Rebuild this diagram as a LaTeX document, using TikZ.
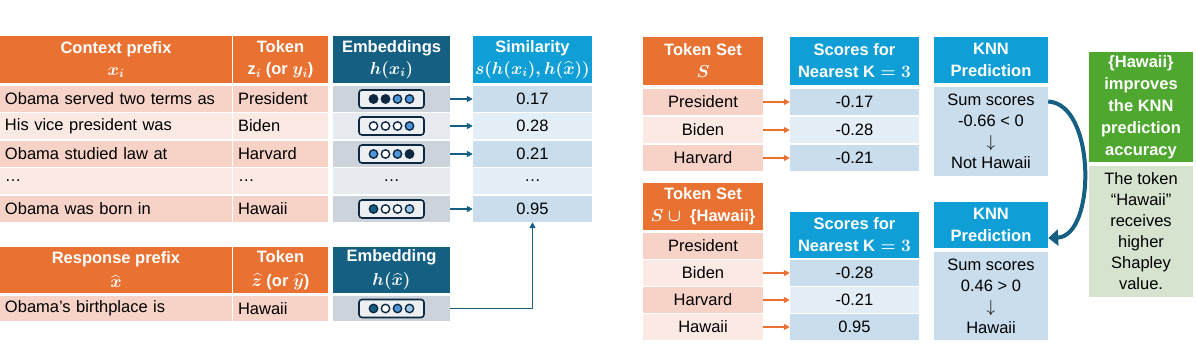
\documentclass[tikz,border=0pt]{standalone}
\usepackage{amsmath,amssymb}
\usepackage{fontspec}
\setmainfont{Liberation Sans}
\usepackage{tikz}
\usetikzlibrary{arrows.meta,positioning}

\definecolor{orangeHd}{HTML}{E97132}
\definecolor{orangeA}{HTML}{F7D3C7}
\definecolor{orangeB}{HTML}{FBE9E4}
\definecolor{tealHd}{HTML}{156082}
\definecolor{grayA}{HTML}{CDD3DA}
\definecolor{grayB}{HTML}{E7EAEE}
\definecolor{blueHd}{HTML}{0F9ED5}
\definecolor{blueA}{HTML}{C9DDED}
\definecolor{blueB}{HTML}{E4EEF6}
\definecolor{greenHd}{HTML}{4EA72E}
\definecolor{greenA}{HTML}{D5E3CF}
\definecolor{dotDark}{HTML}{0E2841}
\definecolor{dotMid}{HTML}{4E95D9}
\definecolor{dotLight}{HTML}{9CC7EA}
\definecolor{iconFill}{HTML}{EDF0F3}

% embedding icon: four dots in a rounded bar
\newcommand{\embicon}[5]{%
  \begin{scope}[shift={(#1)}]
    \draw[rounded corners=3pt, line width=1.6pt, draw=dotDark, fill=iconFill] (-32.5,-9) rectangle (32.5,9);
    \draw[line width=1.4pt, draw=dotDark, fill=#2] (-18,0) circle (4.2pt);
    \draw[line width=1.4pt, draw=dotDark, fill=#3] (-6,0) circle (4.2pt);
    \draw[line width=1.4pt, draw=dotDark, fill=#4] (6,0) circle (4.2pt);
    \draw[line width=1.4pt, draw=dotDark, fill=#5] (18,0) circle (4.2pt);
  \end{scope}}

\begin{document}
\begin{tikzpicture}[
  x=1pt, y=-1pt,
  font=\fontsize{16.5}{21}\selectfont,
  head/.style={inner sep=0pt, text=white, font=\fontsize{16.5}{22}\selectfont\bfseries\boldmath, align=center},
  ohd/.style={head, fill=orangeHd},
  thd/.style={head, fill=tealHd},
  bhd/.style={head, fill=blueHd},
  ghd/.style={head, fill=greenHd},
  cell/.style={inner sep=0pt, minimum height=26pt, align=center},
  txt/.style={cell, inner xsep=5pt, text width=#1, align=left},
  emb arrow/.style={draw=tealHd, line width=1.5pt, -{Triangle[length=6pt,width=6pt]}},
  tok arrow/.style={draw=orangeHd, line width=1.5pt, -{Triangle[length=6pt,width=6pt]}}
]
  \useasboundingbox (0,0) rectangle (1196,358);

  % Context table
  \node[ohd, minimum width=232pt, minimum height=47pt] (hctx) at (116,59.5) {Context prefix\\ $x_i$};
  \node[ohd, minimum width=95pt, minimum height=47pt] (htok) at (280.5,59.5) {Token\\ $\mathrm{z}_i$ (or $y_i$)};
  \node[thd, minimum width=117pt, minimum height=47pt] (hemb) at (391.5,59.5) {Embeddings\\ $h(x_i)$};
  \node[bhd, minimum width=119pt, minimum height=47pt] (hsim) at (532.5,59.5) {Similarity\\ $s(h(x_i),h(\widehat{x}))$};

  \node[txt=222pt, fill=orangeA] (c1) at (116,99) {Obama served two terms as};
  \node[txt=222pt, fill=orangeB] (c2) at (116,126) {His vice president was};
  \node[txt=222pt, fill=orangeA] (c3) at (116,154) {Obama studied law at};
  \node[txt=222pt, fill=orangeB] (c4) at (116,181) {\dots};
  \node[txt=222pt, fill=orangeA] (c5) at (116,209) {Obama was born in};

  \node[txt=85pt, fill=orangeA] (t1) at (280.5,99) {President};
  \node[txt=85pt, fill=orangeB] (t2) at (280.5,126) {Biden};
  \node[txt=85pt, fill=orangeA] (t3) at (280.5,154) {Harvard};
  \node[txt=85pt, fill=orangeB] (t4) at (280.5,181) {\dots};
  \node[txt=85pt, fill=orangeA] (t5) at (280.5,209) {Hawaii};

  \node[cell, minimum width=117pt, fill=grayA] (e1) at (391.5,99) {};
  \node[cell, minimum width=117pt, fill=grayB] (e2) at (391.5,126) {};
  \node[cell, minimum width=117pt, fill=grayA] (e3) at (391.5,154) {};
  \node[cell, minimum width=117pt, fill=grayB] (e4) at (391.5,181) {\dots};
  \node[cell, minimum width=117pt, fill=grayA] (e5) at (391.5,209) {};
  \embicon{e1}{dotDark}{dotDark}{dotMid}{dotMid}
  \embicon{e2}{white}{white}{white}{dotMid}
  \embicon{e3}{dotMid}{white}{dotMid}{dotDark}
  \embicon{e5}{tealHd}{white}{white}{dotLight}

  \node[cell, minimum width=119pt, fill=blueA] (s1) at (532.5,99) {0.17};
  \node[cell, minimum width=119pt, fill=blueB] (s2) at (532.5,126) {0.28};
  \node[cell, minimum width=119pt, fill=blueA] (s3) at (532.5,154) {0.21};
  \node[cell, minimum width=119pt, fill=blueB] (s4) at (532.5,181) {\dots};
  \node[cell, minimum width=119pt, fill=blueA] (s5) at (532.5,209) {0.95};

  \draw[emb arrow] (e1) -- (s1);
  \draw[emb arrow] (e2) -- (s2);
  \draw[emb arrow] (e3) -- (s3);
  \draw[emb arrow] (e5) -- (s5);

  % Response table
  \node[ohd, minimum width=232pt, minimum height=46pt] (hrsp) at (116,270) {Response prefix\\[2pt] $\widehat{x}$};
  \node[ohd, minimum width=95pt, minimum height=46pt] (hrtok) at (280.5,270) {Token\\[2pt] $\widehat{z}$ (or $\widehat{y}$)};
  \node[thd, minimum width=117pt, minimum height=46pt] (hremb) at (391.5,270) {Embedding\\[2pt] $h(\widehat{x})$};

  \node[txt=222pt, minimum height=25pt, fill=orangeA] (rq) at (116,308.5) {Obama’s birthplace is};
  \node[txt=85pt, minimum height=25pt, fill=orangeA] (tq) at (280.5,308.5) {Hawaii};
  \node[cell, minimum width=117pt, minimum height=25pt, fill=grayA] (eq) at (391.5,308.5) {};
  \embicon{eq}{tealHd}{white}{dotMid}{dotLight}

  \draw[emb arrow] (eq.east) -| (s5.south);

  % Token set S
  \node[ohd, minimum width=120pt, minimum height=48pt] (hset) at (703,61) {Token Set\\ $S$};
  \node[bhd, minimum width=129pt, minimum height=48pt] (hsc) at (854.5,61) {Scores for\\ Nearest $\mathrm{K}=3$};
  \node[cell, minimum width=120pt, fill=orangeA] (k1) at (703,102) {President};
  \node[cell, minimum width=120pt, fill=orangeB] (k2) at (703,130) {Biden};
  \node[cell, minimum width=120pt, fill=orangeA] (k3) at (703,158) {Harvard};
  \node[cell, minimum width=129pt, fill=blueA] (v1) at (854.5,102) {-0.17};
  \node[cell, minimum width=129pt, fill=blueB] (v2) at (854.5,130) {-0.28};
  \node[cell, minimum width=129pt, fill=blueA] (v3) at (854.5,158) {-0.21};
  \draw[tok arrow] (k1) -- (v1);
  \draw[tok arrow] (k2) -- (v2);
  \draw[tok arrow] (k3) -- (v3);

  \node[bhd, minimum width=114pt, minimum height=46pt] (hknn) at (991,60) {KNN\\ Prediction};
  \node[cell, minimum width=114pt, minimum height=89pt, fill=blueA] (knn) at (991,131.5) {Sum scores\\ -0.66 < 0\\ $\downarrow$\\ Not Hawaii};

  % Token set S with Hawaii
  \node[ohd, minimum width=120pt, minimum height=47pt] (hsetb) at (703,206.5) {Token Set\\ $S\cup{}$ \{Hawaii\}};
  \node[cell, minimum width=120pt, fill=orangeA] (kb1) at (703,245.5) {President};
  \node[cell, minimum width=120pt, fill=orangeB] (kb2) at (703,273) {Biden};
  \node[cell, minimum width=120pt, fill=orangeA] (kb3) at (703,300) {Harvard};
  \node[cell, minimum width=120pt, fill=orangeB] (kb4) at (703,327) {Hawaii};
  \node[bhd, minimum width=129pt, minimum height=46pt] (hscb) at (854.5,235) {Scores for\\ Nearest $\mathrm{K}=3$};
  \node[cell, minimum width=129pt, fill=blueA] (vb2) at (854.5,273) {-0.28};
  \node[cell, minimum width=129pt, fill=blueB] (vb3) at (854.5,300) {-0.21};
  \node[cell, minimum width=129pt, fill=blueA] (vb4) at (854.5,327) {0.95};
  \draw[tok arrow] (kb2) -- (vb2);
  \draw[tok arrow] (kb3) -- (vb3);
  \draw[tok arrow] (kb4) -- (vb4);

  \node[bhd, minimum width=114pt, minimum height=46pt] (hknnb) at (991,225) {KNN\\ Prediction};
  \node[cell, minimum width=114pt, minimum height=88pt, fill=blueA] (knnb) at (991,296) {Sum scores\\ 0.46 > 0\\ $\downarrow$\\ Hawaii};

  \draw[draw=tealHd, line width=4pt, -{Triangle[length=10pt,width=16pt]}]
    ([yshift=30pt]knn.east) .. controls (1096,104) and (1096,236) .. ([yshift=-13pt]hknnb.east);

  % Conclusion
  \node[ghd, minimum width=104pt, minimum height=110pt] (hres) at (1141,107) {\{Hawaii\}\\ improves\\ the KNN\\ prediction\\ accuracy};
  \node[cell, minimum width=104pt, minimum height=131pt, fill=greenA] (res) at (1141,231.5) {The token\\ “Hawaii”\\ receives\\ higher\\ Shapley\\ value.};
\end{tikzpicture}
\end{document}
